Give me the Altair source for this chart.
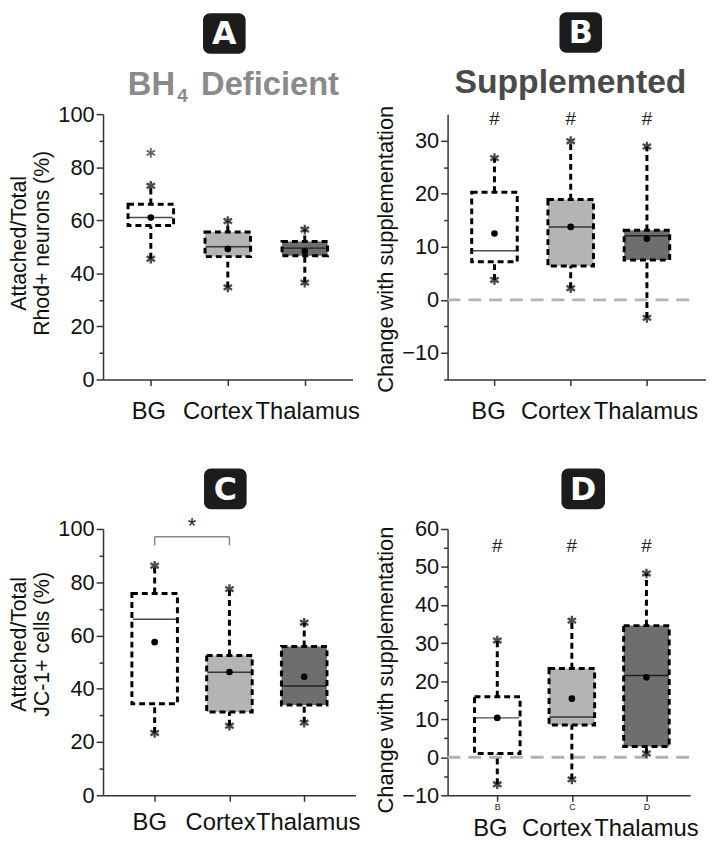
import altair as alt
import pandas as pd

regions = ["BG", "Cortex", "Thalamus"]
positions = [1, 2, 3]
fills = ["#ffffff", "#b4b4b4", "#6e6e6e"]

# Panel A - BH4 deficient, Rhod+ neurons
A_low = [45.5, 34.7, 36.5]
A_q1 = [58.0, 46.3, 46.6]
A_med = [61.0, 50.0, 49.5]
A_q3 = [66.0, 55.6, 52.0]
A_high = [73.0, 59.7, 56.5]
A_mean = [61.0, 49.2, 48.3]
A_outlier_pos = [1]
A_outlier_val = [85.4]

# Panel B - supplemented change, Rhod+ neurons
B_low = [3.75, 2.2, -3.4]
B_q1 = [7.2, 6.4, 7.5]
B_med = [9.25, 13.75, 12.1]
B_q3 = [20.3, 18.9, 13.1]
B_high = [26.7, 29.9, 28.9]
B_mean = [12.5, 13.75, 11.5]
B_hash = [34.0, 34.0, 34.0]

# Panel C - BH4 deficient, JC-1+ cells
C_low = [23.4, 26.1, 27.3]
C_q1 = [34.4, 31.3, 33.9]
C_med = [66.1, 46.2, 41.0]
C_q3 = [75.8, 52.5, 55.9]
C_high = [86.2, 77.4, 64.8]
C_mean = [57.5, 46.3, 44.5]
C_bracket_from = [1]
C_bracket_to = [2]
C_bracket_y = [97.1]
C_bracket_end = [93.8]
C_star_y = [103.0]

# Panel D - supplemented change, JC-1+ cells
D_low = [-7.1, -5.8, 1.0]
D_q1 = [1.0, 8.5, 2.8]
D_med = [10.35, 10.6, 21.5]
D_q3 = [15.9, 23.3, 34.6]
D_high = [30.7, 35.9, 48.3]
D_mean = [10.35, 15.4, 21.0]
D_hash = [55.6, 55.6, 55.6]
D_small_labels = ["B", "C", "D"]

FONT = "Liberation Sans"
ASTER = "M0,-1L0,1M-0.87,-0.5L0.87,0.5M-0.87,0.5L0.87,-0.5"
one = pd.DataFrame({"k": [0]})


def panel(low, q1, med, q3, high, mean, ydom, yvals, major, xdom, width, height,
          ytitle, titleY, title_size, letter, letter_box, cat_dy, cat_dx, small_labels=None,
          hashes=None, outliers=None, zero_x2=None, bracket=None, heading=None):
    df = pd.DataFrame({"region": regions, "pos": positions, "low": low, "q1": q1,
                       "med": med, "q3": q3, "high": high, "mean": mean, "fill": fills})
    yscale = alt.Scale(domain=ydom, nice=False, zero=False)
    yaxis = alt.Axis(
        values=yvals,
        labelExpr=f"datum.value % {major} == 0 ? datum.label : ''",
        tickSize={"condition": {"test": f"datum.value % {major} == 0", "value": 7}, "value": 4},
        title=ytitle, titleFontSize=title_size, titleFont=FONT, titleFontWeight="normal",
        titleColor="#111", titleLineHeight=24, titleY=titleY, titlePadding=4,
        labelFontSize=22, labelFont=FONT, labelColor="#111", labelPadding=2,
        domainColor="#333", domainWidth=1.5, tickColor="#333", tickWidth=1.5,
        grid=False,
    )
    if small_labels:
        expr = " : ".join(f"datum.value == {p} ? '{l}'" for p, l in zip(positions, small_labels)) + " : ''"
        xaxis = alt.Axis(values=positions, labelExpr=expr, labelFontSize=9, labelFont=FONT,
                         labelColor="#222", labelPadding=1, title=None, tickSize=6,
                         domainColor="#333", domainWidth=1.5, tickColor="#333",
                         tickWidth=1.5, grid=False)
    else:
        xaxis = alt.Axis(values=positions, labels=False, title=None, tickSize=6,
                         domainColor="#333", domainWidth=1.5, tickColor="#333",
                         tickWidth=1.5, grid=False)
    xscale = alt.Scale(domain=xdom, nice=False, zero=False)

    def X():
        return alt.X("pos:Q", scale=xscale, axis=xaxis)

    def Y(f):
        return alt.Y(f, type="quantitative", scale=yscale, axis=yaxis)

    base = alt.Chart(df)
    dash = [6, 4]
    layers = []
    if zero_x2 is not None:
        layers.append(alt.Chart(one).mark_rule(color="#b3b3b3", strokeWidth=3, strokeDash=[13, 8]).encode(
            y=alt.Y("z:Q", scale=yscale, axis=yaxis), x=alt.value(0), x2=alt.value(zero_x2)
        ).transform_calculate(z="0"))
    layers += [
        base.mark_rule(color="black", strokeWidth=3, strokeDash=dash).encode(x=X(), y=Y("low"), y2="q1"),
        base.mark_rule(color="black", strokeWidth=3, strokeDash=dash).encode(x=X(), y=Y("q3"), y2="high"),
        base.mark_bar(size=46, stroke="black", strokeWidth=3, strokeDash=dash).encode(
            x=X(), y=Y("q1"), y2="q3", fill=alt.Fill("fill:N", scale=None)),
        base.mark_tick(orient="horizontal", size=44, thickness=1.5, color="black").encode(x=X(), y=Y("med")),
        base.mark_point(filled=True, size=45, color="black", opacity=1).encode(x=X(), y=Y("mean")),
        base.mark_point(shape=ASTER, size=95, stroke="black", strokeWidth=2.4, filled=False).encode(x=X(), y=Y("low")),
        base.mark_point(shape=ASTER, size=95, stroke="black", strokeWidth=2.4, filled=False).encode(x=X(), y=Y("high")),
    ]
    if outliers is not None:
        odf = pd.DataFrame({"pos": outliers[0], "val": outliers[1]})
        layers.append(alt.Chart(odf).mark_point(shape=ASTER, size=95, stroke="#222", strokeWidth=1.8).encode(
            x=X(), y=Y("val")))
    if hashes is not None:
        hdf = pd.DataFrame({"pos": positions, "h": hashes})
        layers.append(alt.Chart(hdf).mark_text(text="#", fontSize=19, font=FONT, color="#222").encode(
            x=X(), y=Y("h")))
    if bracket is not None:
        bdf = pd.DataFrame({"x1": bracket[0], "x2": bracket[1], "y": bracket[2], "ye": bracket[3], "s": bracket[4]})
        bx = alt.Chart(bdf)
        layers += [
            bx.mark_rule(color="#888", strokeWidth=1.5).encode(
                x=alt.X("x1:Q", scale=xscale, axis=xaxis), x2="x2", y=Y("y")),
            bx.mark_rule(color="#888", strokeWidth=1.5).encode(
                x=alt.X("x1:Q", scale=xscale, axis=xaxis), y=Y("y"), y2="ye"),
            bx.mark_rule(color="#888", strokeWidth=1.5).encode(
                x=alt.X("x2:Q", scale=xscale, axis=xaxis), y=Y("y"), y2="ye"),
            bx.mark_text(text="*", fontSize=22, font=FONT, color="#222", baseline="middle", dy=5).encode(
                x=alt.X("mx:Q", scale=xscale, axis=xaxis), y=Y("s")).transform_calculate(mx="(datum.x1 + datum.x2) / 2"),
        ]
    # category labels (one layer each so each can be nudged)
    for reg, ddx in zip(regions, cat_dx):
        layers.append(base.transform_filter(alt.datum.region == reg).mark_text(
            fontSize=24, font=FONT, color="#111", baseline="middle", dx=ddx).encode(
            x=X(), y=alt.value(height + cat_dy), text="region:N"))
    # panel letter box
    bx0, bx1, by0, by1 = letter_box
    layers.append(alt.Chart(one).mark_rect(color="#1c1c1c", cornerRadius=7).encode(
        x=alt.value(bx0), x2=alt.value(bx1), y=alt.value(by0), y2=alt.value(by1)))
    layers.append(alt.Chart(one).mark_text(text=letter, color="white", fontSize=32, font="DejaVu Sans",
                                           fontWeight="bold", baseline="middle", align="center").encode(
        x=alt.value((bx0 + bx1) / 2), y=alt.value((by0 + by1) / 2 + 1)))
    if heading is not None:
        for txt, xv, yv, size, col in heading:
            layers.append(alt.Chart(one).mark_text(text=txt, color=col, fontSize=size, font=FONT,
                                                   fontWeight="bold", align="left", baseline="alphabetic").encode(
                x=alt.value(xv), y=alt.value(yv)))
    return alt.layer(*layers).properties(width=width, height=height)


pA = panel(A_low, A_q1, A_med, A_q3, A_high, A_mean, [0, 100], list(range(0, 101, 10)), 20,
           [0.444, 3.556], 252, 268, ["Attached/Total", "Rhod+ neurons (%)"], 130, 21.5, "A",
           (101, 144, -102, -61), 33, [-2, -10, 3], outliers=(A_outlier_pos, A_outlier_val),
           heading=[("BH", 25, -19, 33, "#8a8a8a"), ("4", 75, -12, 19, "#8a8a8a"),
                    ("Deficient", 99, -19, 33, "#8a8a8a")])
pB = panel(B_low, B_q1, B_med, B_q3, B_high, B_mean, [-15, 35], list(range(-15, 31, 5)), 10,
           [0.45, 3.71], 261, 268, "Change with supplementation", 136, 22, "B",
           (113, 156, -103, -62), 33, [-6, -15, -1], hashes=B_hash, zero_x2=246,
           heading=[("Supplemented", 7, -21, 34, "#4a4a4a")])
pC = panel(C_low, C_q1, C_med, C_q3, C_high, C_mean, [0, 100], list(range(0, 101, 10)), 20,
           [0.376, 3.62], 255, 269, ["Attached/Total", "JC-1+  cells (%)"], 116, 21.5, "C",
           (102, 145, -61, -20), 28, [-5, -9, 4],
           bracket=(C_bracket_from, C_bracket_to, C_bracket_y, C_bracket_end, C_star_y))
pD = panel(D_low, D_q1, D_med, D_q3, D_high, D_mean, [-10, 60], list(range(-10, 61, 5)), 10,
           [0.40, 3.52], 245, 269, "Change with supplementation", 142, 22, "D",
           (115, 159, -61, -20), 34, [-7, -15, 0], small_labels=D_small_labels, hashes=D_hash, zero_x2=245)

chart = alt.vconcat(
    alt.hconcat(pA, pB, spacing=14),
    alt.hconcat(pC, pD, spacing=14),
    spacing=45,
).properties(padding=0).configure_view(stroke=None)

chart.save("out.html", embed_options={"renderer": "svg", "actions": False})
